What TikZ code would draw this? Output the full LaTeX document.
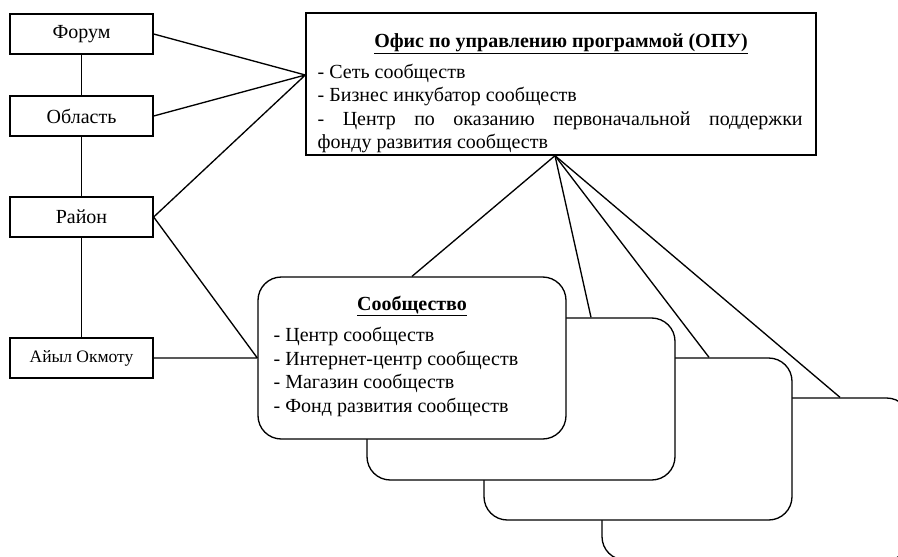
\documentclass[tikz,border=0pt]{standalone}
\usepackage{fontspec}
\setmainfont{Liberation Serif}
\begin{document}
\begin{tikzpicture}[x=0.6pt,y=-0.6pt,line width=0.8pt,font=\fontsize{12}{14.1}\selectfont,
  level/.style={draw,minimum width=85.8pt,minimum height=24pt,inner sep=0pt},
  opubox/.style={draw,minimum width=306pt,minimum height=85.2pt,inner sep=0pt},
  comm/.style={draw,fill=white,rounded corners=14pt,minimum width=184.8pt,minimum height=97.2pt,inner sep=0pt},
  head/.style={anchor=base,inner sep=0pt,font=\fontsize{12}{14.1}\selectfont\bfseries},
  items/.style={anchor=north west,inner sep=0pt,align=left}]
\useasboundingbox (0,0) rectangle (898,556);
\clip (0,0) rectangle (898,556);
% levels on the left
\node[level] (forum) at (81.5,34) {Форум};
\node[level] (oblast) at (81.5,116) {Область};
\node[level] (rayon) at (81.5,217) {Район};
\node[level,font=\fontsize{10.5}{12}\selectfont] (aiyl) at (81.5,358) {Айыл Окмоту};
\draw (forum) -- (oblast) (oblast) -- (rayon) (rayon) -- (aiyl);
% program office
\node[opubox] (opu) at (561,84) {};
\node[head] (opuhead) at (561,47) {\underline{Офис по управлению программой (ОПУ)}};
\node[items,text width=291pt,align=justify] (opulist) at (317,63.5)
  {- Сеть сообществ\\
   - Бизнес инкубатор сообществ\\
   - Центр по оказанию первоначальной поддержки\linebreak фонду развития сообществ};
\coordinate (opuin) at ([yshift=5.4pt]opu.west);
\coordinate (opuout) at ([xshift=-3.6pt]opu.south);
\draw (forum.east) -- (opuin) (oblast.east) -- (opuin) (rayon.east) -- (opuin);
% communities, back to front
\node[comm] (comm4) at (756,479) {};
\node[comm] (comm3) at (638,439) {};
\node[comm] (comm2) at (521,399) {};
\node[comm] (comm1) at (412,358) {};
\node[head] (commhead) at (412,310) {\underline{Сообщество}};
\node[items] (commlist) at (273,327)
  {- Центр сообществ\\
   - Интернет-центр сообществ\\
   - Магазин сообществ\\
   - Фонд развития сообществ};
\draw (rayon.east) -- (comm1.west) (aiyl.east) -- (comm1.west);
\draw (opuout) -- (comm1.north);
\draw (opuout) -- ([xshift=42pt]comm2.north);
\draw (opuout) -- ([xshift=42.6pt]comm3.north);
\draw (opuout) -- ([xshift=50.4pt]comm4.north);
\end{tikzpicture}
\end{document}
